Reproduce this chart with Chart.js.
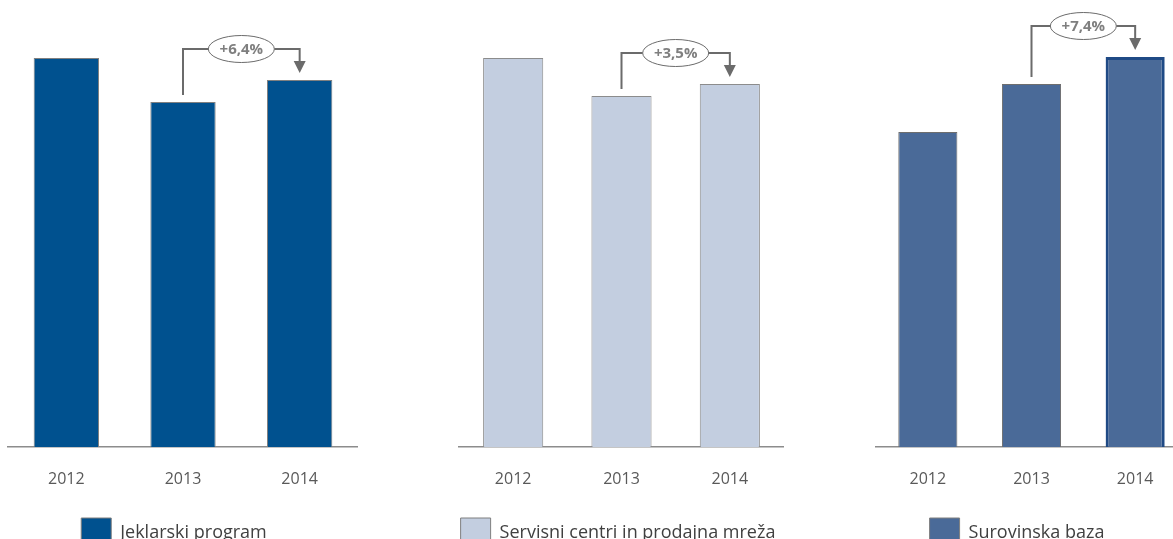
<!DOCTYPE html>
<html>
<head>
<meta charset="utf-8">
<script src="https://cdn.jsdelivr.net/npm/chart.js@4"></script>
<style>
html, body { margin: 0; padding: 0; width: 1173px; height: 539px; overflow: hidden; background: #fff; }
body { position: relative; }
canvas { position: absolute; top: 0; }
</style>
</head>
<body>
<canvas id="c1"></canvas>
<canvas id="c2"></canvas>
<canvas id="c3"></canvas>
<script>
// data (relative units, 2014 vs 2013 growth as labelled)
const years = ['2012', '2013', '2014'];
const seriesNames = ['Jeklarski program', 'Servisni centri in prodajna mreža', 'Surovinska baza'];
const jeklarski = [389, 345, 367];
const servisni = [389, 351, 363];
const surovinska = [315, 363, 390];
const growthLabels = ['+6,4%', '+3,5%', '+7,4%'];

Chart.defaults.font.family = '"Open Sans", sans-serif';
Chart.defaults.animation = false;

// bracket with the growth label from 2013 bar to 2014 bar
const bracketPlugin = {
    id: 'growthBracket',
    afterDatasetsDraw(chart, args, opts) {
        const bars = chart.getDatasetMeta(0).data;
        const a = bars[1], b = bars[2];
        const ctx = chart.ctx;
        const yTop = Math.min(a.y, b.y) - 31;
        const cx = (a.x + b.x) / 2;
        const rx = 33, ry = 13.5;
        ctx.save();
        ctx.strokeStyle = '#6b6b6b';
        ctx.lineWidth = 2;
        ctx.beginPath();
        ctx.moveTo(a.x, a.y - 7);
        ctx.lineTo(a.x, yTop);
        ctx.lineTo(cx - rx, yTop);
        ctx.moveTo(cx + rx, yTop);
        ctx.lineTo(b.x, yTop);
        ctx.lineTo(b.x, b.y - 18);
        ctx.stroke();

        ctx.fillStyle = '#6b6b6b';
        ctx.beginPath();
        ctx.moveTo(b.x - 6, b.y - 19);
        ctx.lineTo(b.x + 6, b.y - 19);
        ctx.lineTo(b.x, b.y - 7);
        ctx.closePath();
        ctx.fill();

        ctx.beginPath();
        ctx.ellipse(cx, yTop, rx, ry, 0, 0, Math.PI * 2);
        ctx.fillStyle = '#fff';
        ctx.fill();
        ctx.lineWidth = 1;
        ctx.stroke();

        ctx.fillStyle = '#7f7f7f';
        ctx.font = 'bold 15px "Open Sans"';
        ctx.textAlign = 'center';
        ctx.textBaseline = 'middle';
        ctx.fillText(opts.label, cx, yTop + 1);
        ctx.restore();
    }
};

function makeChart(id, cfg) {
    const canvas = document.getElementById(id);
    canvas.width = cfg.width;
    canvas.height = 558;
    canvas.style.left = cfg.left + 'px';

    return new Chart(canvas, {
        type: 'bar',
        data: {
            labels: years,
            datasets: [{
                label: cfg.name,
                data: cfg.values,
                backgroundColor: cfg.color,
                borderColor: cfg.borders,
                borderWidth: cfg.borderWidths,
                categoryPercentage: 1,
                barPercentage: cfg.barPct
            }]
        },
        options: {
            responsive: false,
            devicePixelRatio: 1,
            layout: { padding: { top: 47, left: 0, right: 0, bottom: 0 } },
            scales: {
                x: {
                    grid: { display: false, drawTicks: false },
                    border: { display: true, color: '#8c8c8c', width: 1.5 },
                    ticks: { color: '#595959', font: { size: 16 }, padding: 23 },
                    afterFit: s => { s.height = 61; }
                },
                y: {
                    min: 0,
                    max: 400,
                    grid: { display: false },
                    border: { display: false },
                    ticks: { display: false },
                    afterFit: s => { s.width = cfg.gutter; }
                }
            },
            plugins: {
                tooltip: { enabled: false },
                growthBracket: { label: cfg.growth },
                legend: {
                    position: 'bottom',
                    labels: {
                        boxWidth: 30,
                        boxHeight: 30,
                        padding: 10,
                        color: '#404040',
                        font: { size: 18 },
                        generateLabels: chart => [{
                            text: chart.data.datasets[0].label,
                            fillStyle: cfg.color,
                            strokeStyle: '#7f7f7f',
                            lineWidth: 1,
                            fontColor: '#404040',
                            hidden: false,
                            datasetIndex: 0
                        }]
                    }
                }
            }
        },
        plugins: [bracketPlugin]
    });
}

makeChart('c1', {
    left: -10, width: 368, gutter: 18, barPct: 0.56,
    name: seriesNames[0], values: jeklarski, growth: growthLabels[0],
    color: '#00518f', borders: '#808080', borderWidths: 1
});
makeChart('c2', {
    left: 452, width: 332, gutter: 7, barPct: 0.555,
    name: seriesNames[1], values: servisni, growth: growthLabels[1],
    color: '#c3cee0', borders: '#8c8c8c', borderWidths: 1
});
makeChart('c3', {
    left: 847, width: 340, gutter: 29, barPct: 0.57,
    name: seriesNames[2], values: surovinska, growth: growthLabels[2],
    color: '#4a6a98', borders: ['#6e6e6e', '#6e6e6e', '#1f4a85'], borderWidths: [1, 1, 3]
});
</script>
</body>
</html>
